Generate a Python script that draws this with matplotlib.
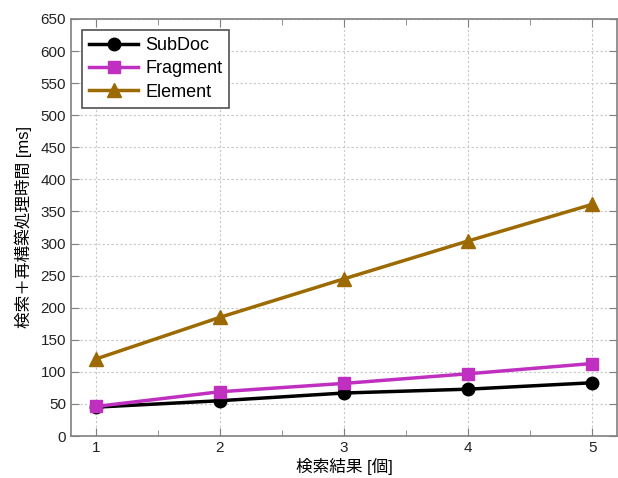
import matplotlib.pyplot as plt
import numpy as np

plt.rcParams['font.family'] = ['Liberation Sans', 'Noto Sans CJK JP', 'DejaVu Sans']

x = [1, 2, 3, 4, 5]
subdoc = [45, 55, 67, 73, 83]
fragment = [46, 69, 82, 97, 113]
element = [120, 185, 245, 304, 361]

fig = plt.figure(figsize=(6.18, 4.78), dpi=100)
ax = fig.add_axes([71 / 618, 42 / 478, 546 / 618, 417 / 478])

ax.plot(x, subdoc, '-o', color='black', lw=2.5, ms=9, label='SubDoc')
ax.plot(x, fragment, '-s', color='#c030c0', lw=2.5, ms=8, label='Fragment')
ax.plot(x, element, '-^', color='#9c6a00', lw=2.5, ms=10, label='Element')

ax.set_xlim(0.8, 5.2)
ax.set_ylim(0, 650)
ax.set_xticks(x)
ax.set_xticks([1.5, 2.5, 3.5, 4.5], minor=True)
ax.set_yticks(np.arange(0, 651, 50))
ax.grid(True, which='major', color='#c8c8c8', linestyle=(0, (2, 2)), lw=0.8)
ax.tick_params(which='both', direction='in', top=True, right=True,
               color='#808080', labelsize=11, labelcolor='#222222')
ax.tick_params(which='major', length=6)
ax.tick_params(which='minor', length=4)
for s in ax.spines.values():
    s.set_color('#808080')
    s.set_linewidth(1.2)

ax.set_xlabel('検索結果 [個]', fontsize=12, labelpad=2)
ax.set_ylabel('検索＋再構築処理時間 [ms]', fontsize=12, labelpad=6)

leg = ax.legend(loc='upper left', bbox_to_anchor=(0.02, 0.974), borderaxespad=0,
                fontsize=13, fancybox=False, framealpha=1, edgecolor='#505050',
                handlelength=2.7, handletextpad=0.4, borderpad=0.4,
                labelspacing=0.35)
leg.get_frame().set_linewidth(1.2)

fig.savefig('out.png', dpi=100)
